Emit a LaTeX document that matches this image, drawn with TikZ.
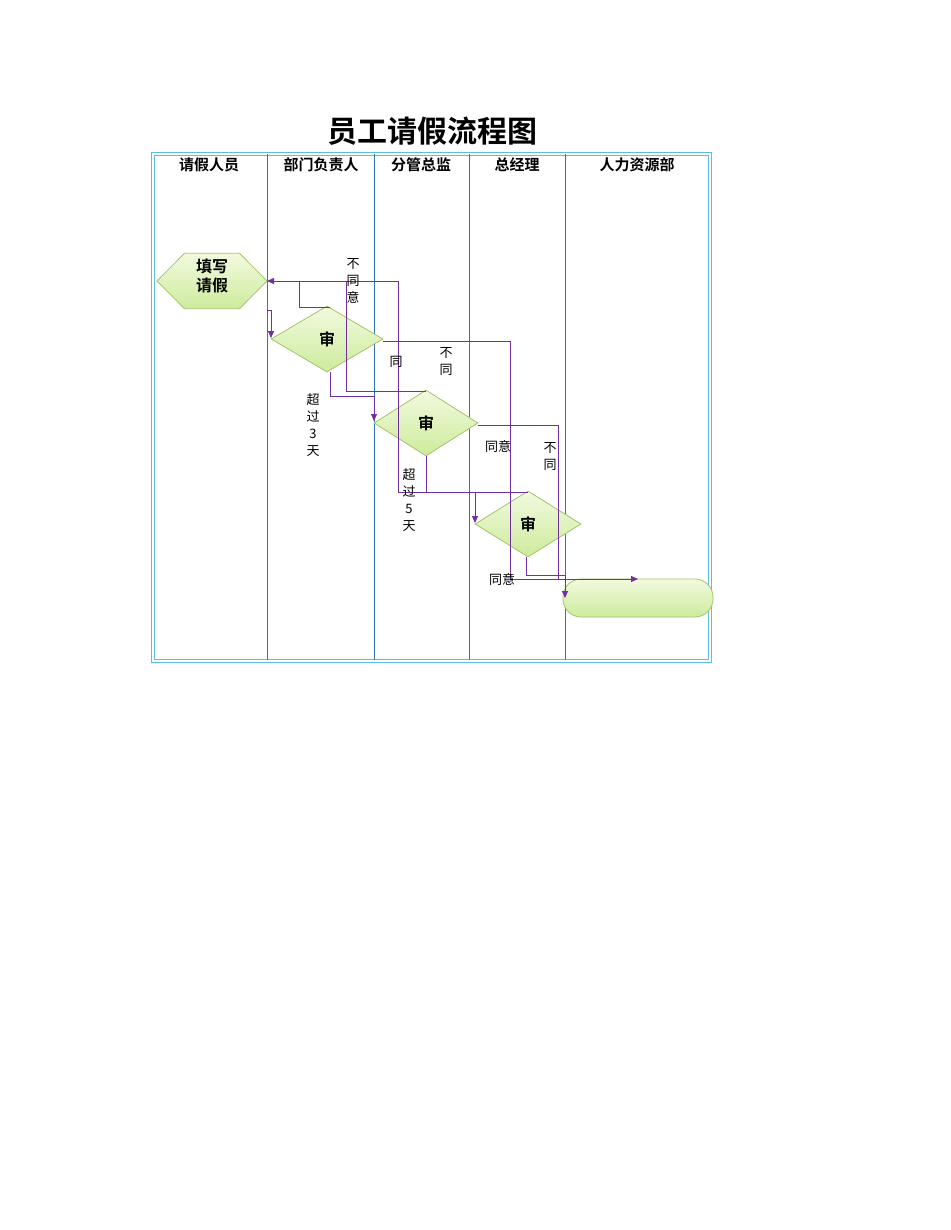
\documentclass[tikz,border=0pt]{standalone}
\usepackage{fontspec}
\newfontfamily\cjk{Noto Sans CJK SC}
\newfontfamily\cjkb{Noto Sans CJK SC Bold}
\usetikzlibrary{shapes.geometric,arrows.meta}
\definecolor{lane}{HTML}{2E75B6}
\definecolor{frame}{HTML}{5BC0DE}
\definecolor{flow}{HTML}{7030A0}
\definecolor{gtop}{HTML}{F2FADF}
\definecolor{gbot}{HTML}{CDEB9C}
\definecolor{gedge}{HTML}{A5C36A}
\begin{document}
\begin{tikzpicture}[x=1pt,y=-1pt,
  shp/.style={draw=gedge,line width=0.8pt,top color=gtop,bottom color=gbot,inner sep=0pt},
  hdr/.style={font=\cjkb\fontsize{15}{15}\selectfont},
  lbl/.style={font=\cjk\fontsize{13}{17}\selectfont,align=center},
  flw/.style={draw=flow,line width=0.9pt},
  arr/.style={flw,-{Triangle[length=7pt,width=6pt]}},
  in/.style={}]
\useasboundingbox (0,0) rectangle (950,1230);
\fill[white] (0,0) rectangle (950,1230);
% title
\node[font=\cjkb\fontsize{30}{30}\selectfont] (title) at (432,131) {员工请假流程图};
% frame
\draw[frame,line width=0.6pt] (151,152) rectangle (711,662);
\draw[frame,line width=0.6pt] (154,155) rectangle (708,659);
\foreach \x in {267,374,469,565} \draw[lane,line width=0.8pt] (\x,154) -- (\x,660);
\node[hdr] (h1) at (209,165) {请假人员};
\node[hdr] (h2) at (321,165) {部门负责人};
\node[hdr] (h3) at (421,165) {分管总监};
\node[hdr] (h4) at (517,165) {总经理};
\node[hdr] (h5) at (637,165) {人力资源部};
% shapes
\node[shp,regular polygon,regular polygon sides=6,shape border rotate=0,minimum size=64pt,xscale=1.72,yscale=1] (hex) at (212,281) {};
\node[font=\cjkb\fontsize{16}{19}\selectfont,align=center] (hext) at (212,276) {填写\\请假};
\node[shp,diamond,minimum width=112pt,minimum height=66pt,aspect=1.7] (d1) at (327,339) {};
\node[shp,diamond,minimum width=104pt,minimum height=66pt,aspect=1.6] (d2) at (426,423) {};
\node[shp,diamond,minimum width=106pt,minimum height=66pt,aspect=1.6] (d3) at (528,524) {};
\node[font=\cjkb\fontsize{16}{16}\selectfont] (d1t) at (327,339) {审};
\node[font=\cjkb\fontsize{16}{16}\selectfont] (d2t) at (426,423) {审};
\node[font=\cjkb\fontsize{16}{16}\selectfont] (d3t) at (528,524) {审};
\node[shp,rounded corners=18pt,minimum width=150pt,minimum height=38pt] (term) at (638,598) {};
% coordinates
\coordinate (hexr) at (267,281);
\coordinate (a1) at (267,310);
\coordinate (a2) at (271,310);
\coordinate (a3) at (271,338);
\coordinate (d1top) at (330,307);
\coordinate (b1) at (299,307);
\coordinate (b2) at (299,281);
\coordinate (c1) at (330,396);
\coordinate (c2) at (374,396);
\coordinate (c3) at (374,421);
\coordinate (e1) at (426,391);
\coordinate (e2) at (346,391);
\coordinate (e3) at (346,281);
\coordinate (f1) at (398,281);
\coordinate (f2) at (398,492);
\coordinate (g1) at (426,492);
\coordinate (g2) at (475,492);
\coordinate (g3) at (475,523);
\coordinate (g4) at (528,492);
\coordinate (k1) at (510,341);
\coordinate (k2) at (510,579);
\coordinate (k3) at (638,579);
\coordinate (m1) at (558,425);
\coordinate (m2) at (558,579);
\coordinate (m3) at (565,579);
\coordinate (m4) at (565,598);
\coordinate (n1) at (526,557);
\coordinate (n2) at (526,575);
\coordinate (n3) at (565,575);
% connectors
\draw[arr] (a1) -- (a2) -- (a3);
\draw[arr] (d1top) -- (b1) -- (b2) -- (hexr);
\draw[flw] (f1) -- (b2);
\draw[flw] (f2) -- (f1);
\draw[flw] (e1) -- (e2) -- (e3);
\draw[arr] (d1.south) ++(3,0) -- (c1) -- (c2) -- (c3);
\draw[flw] (d2.south) -- (g1) -- (f2);
\draw[arr] (g1) -- (g2) -- (g3);
\draw[flw] (g2) -- (g4);
\draw[arr] (d1.east) ++(0,2) -- (k1) -- (k2) -- (k3);
\draw[flw] (d2.east) ++(0,2) -- (m1) -- (m2) -- (m3);
\draw[arr] (m3) -- (m4);
\draw[flw] (n1) -- (n2) -- (n3) -- (m3);
% labels
\node[lbl] (l1) at (353,281) {不\\同\\意};
\node[lbl] (l2) at (313,425) {超\\过\\3\\天};
\node[lbl] (l3) at (396,362) {同};
\node[lbl] (l4) at (446,362) {不\\同};
\node[lbl] (l5) at (409,500) {超\\过\\5\\天};
\node[lbl] (l6) at (498,447) {同意};
\node[lbl] (l7) at (550,457) {不\\同};
\node[lbl] (l8) at (502,580) {同意};
\end{tikzpicture}
\end{document}
